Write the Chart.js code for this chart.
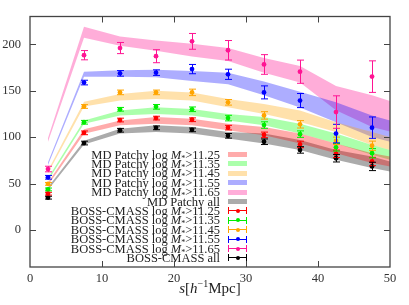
<!DOCTYPE html>
<html>
<head>
<meta charset="utf-8">
<script src="https://cdn.jsdelivr.net/npm/chart.js@4.4.0/dist/chart.umd.min.js"></script>
<style>
    html, body { margin: 0; padding: 0; background: #fff; overflow: hidden; }
    #wrap { position: relative; width: 409px; height: 305px; overflow: hidden; }
    canvas { display: block; }
    .serif { font-family: 'Liberation Serif', 'DejaVu Serif', serif; color: #222; }
    #legend { position: absolute; left: 0; top: 0; width: 409px; height: 305px; font-size: 12.5px; pointer-events: none; }
    .row { position: absolute; left: 0; width: 409px; height: 10px; }
    .row .txt { position: absolute; right: 189px; top: -2px; line-height: 14px; white-space: nowrap; }
    .row sub { font-size: 8px; line-height: 0; vertical-align: -2px; }
    .band { position: absolute; left: 228px; width: 19px; top: 2.5px; height: 5px; }
    .ebar { position: absolute; left: 228px; width: 19px; top: 0; height: 10px; }
    .ebar .ln { position: absolute; left: 0; right: 0; top: 4.5px; height: 1px; }
    .ebar .cap { position: absolute; top: 1.5px; width: 1px; height: 7px; }
    .ebar .dot { position: absolute; left: 7.5px; top: 3px; width: 4px; height: 4px; border-radius: 50%; }
    #xtitle { position: absolute; left: 0; width: 420px; top: 280px; text-align: center; font-size: 15px; }
    #xtitle sup { font-size: 10px; line-height: 0; }
</style>
</head>
<body>
<div id="wrap">
    <canvas id="chart" width="409" height="305"></canvas>
    <div id="legend" class="serif"></div>
    <div id="xtitle" class="serif"><i>s</i>[<i>h</i><sup>&minus;1</sup>Mpc]</div>
</div>
<script>
// Separation bins (x values)
const sepBins = [2.5, 7.5, 12.5, 17.5, 22.5, 27.5, 32.5, 37.5, 42.5, 47.5];
// Band x positions (the mock bands run up to the right edge)
const bandBins = [2.5, 7.5, 12.5, 17.5, 22.5, 27.5, 32.5, 37.5, 42.5, 47.5, 50];

const massCuts = ['11.25', '11.35', '11.45', '11.55', '11.65'];

// MD Patchy bands: lower / upper edges
const patchyLow1125 = [48, 103.5, 112.8, 114.5, 112.8, 107.5, 102, 93.2, 82.6, 72, 68.4];
const patchyUp1125 = [51, 108.5, 118, 121.6, 119.8, 114.5, 111, 103.8, 93, 82.6, 79];
const patchyLow1135 = [53, 114.5, 123.4, 125, 123.4, 118, 112.8, 103.8, 93.2, 81, 75.5];
const patchyUp1135 = [56, 118, 128.7, 132.2, 130.4, 125, 121.6, 114.5, 103.8, 91.5, 86];
const patchyLow1145 = [61, 133, 139.4, 141, 139.4, 132.2, 125, 116.3, 105.6, 91.5, 86];
const patchyUp1145 = [64, 138, 146.4, 150, 148.2, 141, 135.7, 128.7, 116, 105.6, 100];
const patchyLow1155 = [70, 165, 165, 164.5, 160.6, 157, 145, 132, 116, 100, 95];
const patchyUp1155 = [73, 170.5, 172, 172.5, 171.3, 169.5, 160, 149, 137.5, 123.4, 118];
const patchyLow1165 = [95, 207, 198.5, 193, 187, 182, 169.5, 158.8, 129, 111, 106];
const patchyUp1165 = [99, 219, 208.5, 204, 200.6, 196, 185.4, 176.6, 155, 145, 139];
const patchyLowAll = [43, 92, 103.8, 105.6, 103.8, 98.5, 93.2, 86.2, 75.5, 66.6, 63];
const patchyUpAll = [46, 96, 109, 112.8, 111, 105.6, 103.8, 96.8, 86, 79, 73.7];

// BOSS-CMASS measurements and errors
const cmass1125 = [39, 104.6, 118.4, 120.5, 118.7, 110.2, 102.4, 92.1, 82, 73.7];
const cmassErr1125 = [1.5, 2, 2, 2, 2, 2.5, 3, 3.5, 4, 4.5];
const cmass1135 = [43.6, 116, 130, 132.6, 130, 120.5, 113, 103.2, 89, 82.6];
const cmassErr1135 = [1.5, 2, 2, 2.5, 2.5, 3, 3.5, 3.5, 4, 5];
const cmass1145 = [49.6, 133, 148.2, 148.2, 148.2, 137.5, 123.4, 113.8, 96, 90.7];
const cmassErr1145 = [1.5, 2, 2.5, 2.5, 3.5, 3, 4, 4, 4, 5];
const cmass1155 = [56.7, 158.8, 168.7, 169.5, 173.3, 167.7, 148.2, 139.4, 103.8, 110.2];
const cmassErr1155 = [2, 2.5, 3, 3, 5, 5.5, 7, 7.6, 10, 11.5];
const cmass1165 = [65.6, 188.3, 196, 187.2, 203.2, 193.6, 178.3, 170.5, 127, 165.2];
const cmassErr1165 = [3, 5, 6, 7, 8.5, 10.5, 10.6, 12.5, 17.5, 17];
const cmassAll = [34.7, 93.6, 107.4, 110, 107.8, 101.4, 95, 86.2, 77.2, 68.4];
const cmassErrAll = [1.5, 2, 2, 2, 2, 2.5, 3, 3.5, 4, 4.5];

const yTicks = [0, 50, 100, 150, 200];

// colours: red, green, orange, blue, pink, black
const lineColors = ['#ff0000', '#00ee00', '#ffa500', '#0000ff', '#ff1493', '#000000'];
const bandColors = ['rgba(255,0,0,0.33)', 'rgba(0,255,0,0.33)', 'rgba(255,165,0,0.33)',
    'rgba(0,0,255,0.32)', 'rgba(255,20,147,0.35)', 'rgba(0,0,0,0.33)'];

const bandLow = [patchyLow1125, patchyLow1135, patchyLow1145, patchyLow1155, patchyLow1165, patchyLowAll];
const bandUp = [patchyUp1125, patchyUp1135, patchyUp1145, patchyUp1155, patchyUp1165, patchyUpAll];
const cmassVals = [cmass1125, cmass1135, cmass1145, cmass1155, cmass1165, cmassAll];
const cmassErrs = [cmassErr1125, cmassErr1135, cmassErr1145, cmassErr1155, cmassErr1165, cmassErrAll];

const toXY = (xs, ys) => xs.map((x, i) => ({ x: x, y: ys[i] }));

// Build datasets: points on top (order 0), bands below
const datasets = [];
cmassVals.forEach((vals, k) => {
    datasets.push({
        type: 'scatter',
        data: toXY(sepBins, vals),
        errors: cmassErrs[k],
        backgroundColor: lineColors[k],
        borderColor: lineColors[k],
        pointRadius: 2.4,
        pointBorderWidth: 0,
        order: 0
    });
});
bandLow.forEach((low, k) => {
    datasets.push({
        type: 'line',
        data: toXY(bandBins, low),
        borderWidth: 0,
        pointRadius: 0,
        fill: false,
        order: 1
    });
    datasets.push({
        type: 'line',
        data: toXY(bandBins, bandUp[k]),
        borderWidth: 0,
        pointRadius: 0,
        backgroundColor: bandColors[k],
        fill: '-1',
        order: 1
    });
});

// Error bars, frame and inward ticks
const errorBarsAndFrame = {
    id: 'errorBarsAndFrame',
    afterDatasetsDraw(chart) {
        const ctx = chart.ctx;
        const xs = chart.scales.x;
        const ys = chart.scales.y;
        ctx.save();
        ctx.lineWidth = 1;
        chart.data.datasets.forEach(ds => {
            if (!ds.errors) return;
            ctx.strokeStyle = ds.borderColor;
            ds.data.forEach((p, i) => {
                const px = Math.round(xs.getPixelForValue(p.x)) + 0.5;
                const top = ys.getPixelForValue(p.y + ds.errors[i]);
                const bot = ys.getPixelForValue(p.y - ds.errors[i]);
                ctx.beginPath();
                ctx.moveTo(px, top); ctx.lineTo(px, bot);
                ctx.moveTo(px - 3.5, top); ctx.lineTo(px + 3.5, top);
                ctx.moveTo(px - 3.5, bot); ctx.lineTo(px + 3.5, bot);
                ctx.stroke();
            });
        });
        ctx.restore();
    },
    afterDraw(chart) {
        const ctx = chart.ctx;
        const a = chart.chartArea;
        const xs = chart.scales.x;
        const ys = chart.scales.y;
        ctx.save();
        ctx.strokeStyle = '#444';
        ctx.lineWidth = 1.3;
        ctx.strokeRect(a.left, a.top, a.right - a.left, a.bottom - a.top);
        ctx.lineWidth = 1;
        ctx.beginPath();
        xs.ticks.forEach(t => {
            if (t.value <= xs.min || t.value >= xs.max) return;
            const px = Math.round(xs.getPixelForValue(t.value)) + 0.5;
            ctx.moveTo(px, a.bottom); ctx.lineTo(px, a.bottom - 6);
            ctx.moveTo(px, a.top); ctx.lineTo(px, a.top + 6);
        });
        ys.ticks.forEach(t => {
            const py = Math.round(ys.getPixelForValue(t.value)) + 0.5;
            ctx.moveTo(a.left, py); ctx.lineTo(a.left + 6, py);
            ctx.moveTo(a.right, py); ctx.lineTo(a.right - 6, py);
        });
        ctx.stroke();
        ctx.restore();
    }
};

const tickFont = { family: "'Liberation Serif', serif", size: 12.5 };

new Chart(document.getElementById('chart').getContext('2d'), {
    data: { datasets: datasets },
    options: {
        responsive: false,
        animation: false,
        layout: { padding: { top: 12, right: 19, left: 0, bottom: 0 } },
        scales: {
            x: {
                type: 'linear',
                min: 0,
                max: 50,
                ticks: { stepSize: 10, font: tickFont, color: '#333', padding: 4, maxRotation: 0 },
                grid: { display: false, drawTicks: false },
                border: { display: false },
                afterFit(scale) { scale.height = 38; }
            },
            y: {
                type: 'linear',
                min: -40,
                max: 230,
                afterBuildTicks(scale) { scale.ticks = yTicks.map(v => ({ value: v })); },
                ticks: { font: tickFont, color: '#333', padding: 9 },
                grid: { display: false, drawTicks: false },
                border: { display: false },
                afterFit(scale) { scale.width = 30; }
            }
        },
        plugins: {
            legend: { display: false },
            tooltip: { enabled: false }
        }
    },
    plugins: [errorBarsAndFrame]
});

// Legend (bands first, then measurements)
const legendEl = document.getElementById('legend');
const legendTop = 149.5;
const legendStep = 9.4;
const legendOrder = [0, 1, 2, 3, 4, 5];

function addRow(idx, html, sampleHtml) {
    const row = document.createElement('div');
    row.className = 'row';
    row.style.top = (legendTop + idx * legendStep) + 'px';
    row.innerHTML = '<span class="txt">' + html + '</span>' + sampleHtml;
    legendEl.appendChild(row);
}

const massLabel = cut => 'log <i>M</i><sub>*</sub>&gt;' + cut;

legendOrder.forEach((k, i) => {
    const text = k < 5 ? 'MD Patchy ' + massLabel(massCuts[k]) : 'MD Patchy all';
    addRow(i, text, '<span class="band" style="background:' + bandColors[k] + '"></span>');
});
legendOrder.forEach((k, i) => {
    const text = k < 5 ? 'BOSS-CMASS ' + massLabel(massCuts[k]) : 'BOSS-CMASS all';
    const c = lineColors[k];
    const sample = '<span class="ebar">' +
        '<span class="ln" style="background:' + c + '"></span>' +
        '<span class="cap" style="left:0;background:' + c + '"></span>' +
        '<span class="cap" style="right:0;background:' + c + '"></span>' +
        '<span class="dot" style="background:' + c + '"></span></span>';
    addRow(6 + i, text, sample);
});
</script>
</body>
</html>
